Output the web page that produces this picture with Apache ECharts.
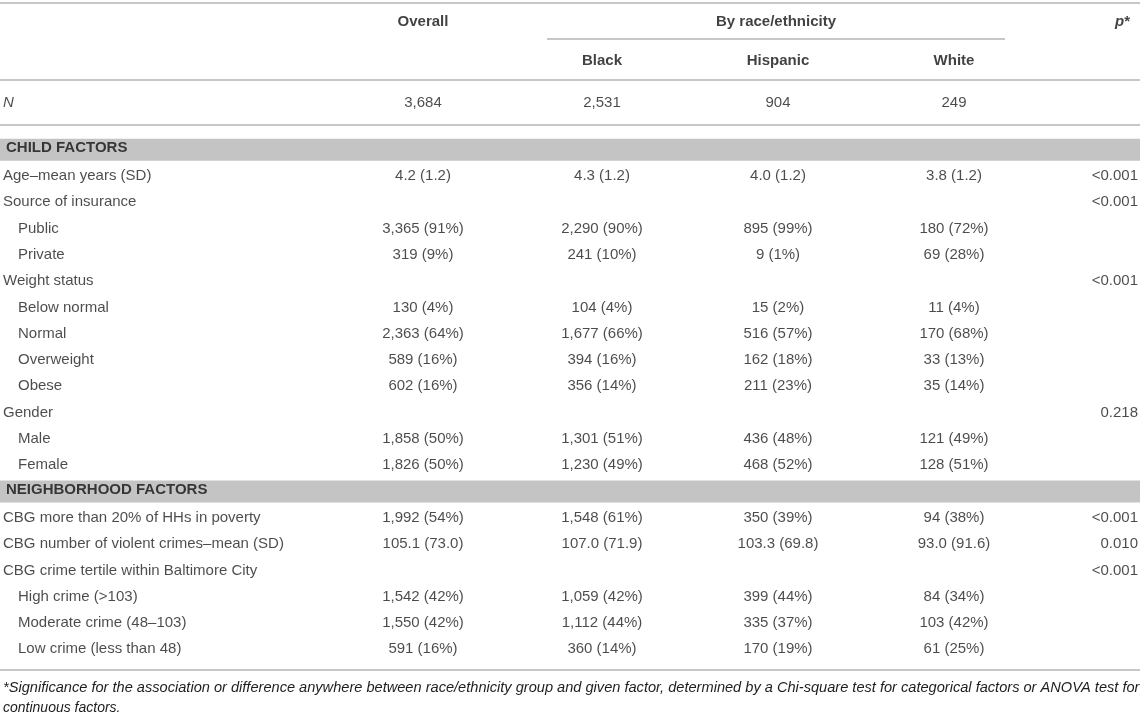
<!DOCTYPE html>
<html>
<head>
<meta charset="utf-8">
<script src="https://cdn.jsdelivr.net/npm/echarts@6/dist/echarts.min.js"></script>
<style>
html,body{margin:0;padding:0;background:#fff;}
#chart{width:1143px;height:715px;}
</style>
</head>
<body>
<div id="chart"></div>
<script>
// ---------- DATA ----------
const groupHeaders = ['Overall', 'By race/ethnicity', 'p*'];
const raceHeaders = ['Black', 'Hispanic', 'White'];
const nLabel = 'N';
const nValues = ['3,684', '2,531', '904', '249'];

const rowLabels = [
  'CHILD FACTORS',
  'Age–mean years (SD)',
  'Source of insurance',
  'Public',
  'Private',
  'Weight status',
  'Below normal',
  'Normal',
  'Overweight',
  'Obese',
  'Gender',
  'Male',
  'Female',
  'NEIGHBORHOOD FACTORS',
  'CBG more than 20% of HHs in poverty',
  'CBG number of violent crimes–mean (SD)',
  'CBG crime tertile within Baltimore City',
  'High crime (>103)',
  'Moderate crime (48–103)',
  'Low crime (less than 48)'
];
const sectionRows = ['CHILD FACTORS', 'NEIGHBORHOOD FACTORS'];
const subRows = ['Public', 'Private', 'Below normal', 'Normal', 'Overweight', 'Obese',
  'Male', 'Female', 'High crime (>103)', 'Moderate crime (48–103)', 'Low crime (less than 48)'];

const overallVals = ['', '4.2 (1.2)', '', '3,365 (91%)', '319 (9%)', '', '130 (4%)', '2,363 (64%)', '589 (16%)', '602 (16%)', '', '1,858 (50%)', '1,826 (50%)', '', '1,992 (54%)', '105.1 (73.0)', '', '1,542 (42%)', '1,550 (42%)', '591 (16%)'];
const blackVals = ['', '4.3 (1.2)', '', '2,290 (90%)', '241 (10%)', '', '104 (4%)', '1,677 (66%)', '394 (16%)', '356 (14%)', '', '1,301 (51%)', '1,230 (49%)', '', '1,548 (61%)', '107.0 (71.9)', '', '1,059 (42%)', '1,112 (44%)', '360 (14%)'];
const hispanicVals = ['', '4.0 (1.2)', '', '895 (99%)', '9 (1%)', '', '15 (2%)', '516 (57%)', '162 (18%)', '211 (23%)', '', '436 (48%)', '468 (52%)', '', '350 (39%)', '103.3 (69.8)', '', '399 (44%)', '335 (37%)', '170 (19%)'];
const whiteVals = ['', '3.8 (1.2)', '', '180 (72%)', '69 (28%)', '', '11 (4%)', '170 (68%)', '33 (13%)', '35 (14%)', '', '121 (49%)', '128 (51%)', '', '94 (38%)', '93.0 (91.6)', '', '84 (34%)', '103 (42%)', '61 (25%)'];
const pVals = ['', '<0.001', '<0.001', '', '', '<0.001', '', '', '', '', '0.218', '', '', '', '<0.001', '0.010', '<0.001', '', '', ''];

const footnoteLines = [
  '*Significance for the association or difference anywhere between race/ethnicity group and given factor, determined by a Chi-square test for categorical factors or ANOVA test for',
  'continuous factors.'
];

// ---------- LAYOUT / STYLE ----------
const W = 1143;
const FONT = '"Liberation Sans", Arial, Helvetica, sans-serif';
const TXT = '#1e1e1e';
const RULE = '#b4b4b4';
const BAND = '#c4c4c4';
const COL = { label: 3, indent: 18, overall: 423, black: 602, hispanic: 778, white: 954, group: 776, p: 1138, pHead: 1130, ruleEnd: 1140, subStart: 547, subEnd: 1005 };
const HEAD = { top: 3, height: 77 };
const NROW = { top: 80, height: 45 };
const BODY = { top: 136.5, rowH: 26.3 };
const RULES_Y = { top: 3, sub: 39, head: 80, n: 125, bottom: 670 };

const headerCats = ['group', 'race'];
const nCats = ['N'];

function axesFor(gi, cats) {
  return {
    x: { type: 'value', gridIndex: gi, min: 0, max: W, show: false },
    y: { type: 'category', gridIndex: gi, data: cats, inverse: true, show: false }
  };
}

const grids = [
  { left: 0, width: W, top: HEAD.top, height: HEAD.height },
  { left: 0, width: W, top: NROW.top, height: NROW.height },
  { left: 0, width: W, top: BODY.top, height: BODY.rowH * rowLabels.length }
];
const ax = [axesFor(0, headerCats), axesFor(1, nCats), axesFor(2, rowLabels)];

function textSeries(gi, items, align, style) {
  return {
    type: 'scatter',
    xAxisIndex: gi, yAxisIndex: gi,
    symbolSize: 0,
    silent: true,
    itemStyle: { color: 'rgba(0,0,0,0)' },
    z: 5,
    label: Object.assign({
      show: true, position: 'inside', align: align, verticalAlign: 'middle',
      fontFamily: FONT, fontSize: 15, color: TXT,
      formatter: p => p.data.text
    }, style || {}),
    data: items.filter(d => d.text !== '').map(d => ({ value: [d.x, d.y], text: d.text, label: d.label }))
  };
}

const bold = { fontWeight: 'bold', color: '#111' };

const series = [];

// section bands
series.push({
  type: 'bar', xAxisIndex: 2, yAxisIndex: 2, silent: true,
  barWidth: 22, itemStyle: { color: BAND }, z: 1,
  data: sectionRows.map(r => [COL.ruleEnd, r])
});

// header row 1
series.push(textSeries(0, [
  { x: COL.overall, y: 'group', text: groupHeaders[0] },
  { x: COL.group, y: 'group', text: groupHeaders[1] }
], 'center', bold));
series.push(textSeries(0, [
  { x: COL.pHead, y: 'group', text: '{i|p}{b|*}' }
], 'right', Object.assign({}, bold, {
  rich: {
    i: { fontFamily: FONT, fontSize: 15, fontWeight: 'bold', fontStyle: 'italic', color: '#111' },
    b: { fontFamily: FONT, fontSize: 15, fontWeight: 'bold', color: '#111' }
  }
})));
// header row 2
series.push(textSeries(0, [
  { x: COL.black, y: 'race', text: raceHeaders[0] },
  { x: COL.hispanic, y: 'race', text: raceHeaders[1] },
  { x: COL.white, y: 'race', text: raceHeaders[2] }
], 'center', bold));

// N row
series.push(textSeries(1, [{ x: COL.label, y: 'N', text: nLabel }], 'left', { fontStyle: 'italic' }));
series.push(textSeries(1, [
  { x: COL.overall, y: 'N', text: nValues[0] },
  { x: COL.black, y: 'N', text: nValues[1] },
  { x: COL.hispanic, y: 'N', text: nValues[2] },
  { x: COL.white, y: 'N', text: nValues[3] }
], 'center'));

// body labels
series.push(textSeries(2, rowLabels.map(r => {
  const isSec = sectionRows.includes(r);
  const isSub = subRows.includes(r);
  return {
    x: isSec ? COL.label + 3 : (isSub ? COL.indent : COL.label),
    y: r, text: r,
    label: isSec ? { fontWeight: 'bold', color: '#111', offset: [0, -2] } : undefined
  };
}), 'left'));

// body values
[[overallVals, COL.overall], [blackVals, COL.black], [hispanicVals, COL.hispanic], [whiteVals, COL.white]].forEach(([arr, x]) => {
  series.push(textSeries(2, arr.map((t, i) => ({ x: x, y: rowLabels[i], text: t })), 'center'));
});
series.push(textSeries(2, pVals.map((t, i) => ({ x: COL.p, y: rowLabels[i], text: t })), 'right'));

const ruleLine = (x1, x2, y) => ({
  type: 'line', silent: true, z: 10,
  shape: { x1: x1, y1: y, x2: x2, y2: y },
  style: { stroke: RULE, lineWidth: 1.5 }
});

const chart = echarts.init(document.getElementById('chart'), null, { renderer: 'canvas' });
chart.setOption({
  animation: false,
  backgroundColor: '#fff',
  grid: grids,
  xAxis: ax.map(a => a.x),
  yAxis: ax.map(a => a.y),
  series: series,
  graphic: [
    ruleLine(0, COL.ruleEnd, RULES_Y.top),
    ruleLine(COL.subStart, COL.subEnd, RULES_Y.sub),
    ruleLine(0, COL.ruleEnd, RULES_Y.head),
    ruleLine(0, COL.ruleEnd, RULES_Y.n),
    ruleLine(0, COL.ruleEnd, RULES_Y.bottom),
    {
      type: 'text', left: COL.label, top: 680, silent: true,
      style: { text: footnoteLines[0], font: 'italic 14.6px ' + FONT, fill: TXT }
    },
    {
      type: 'text', left: COL.label, top: 701, silent: true,
      style: { text: footnoteLines[1], font: 'italic 14px ' + FONT, fill: TXT }
    }
  ]
});
</script>
</body>
</html>
